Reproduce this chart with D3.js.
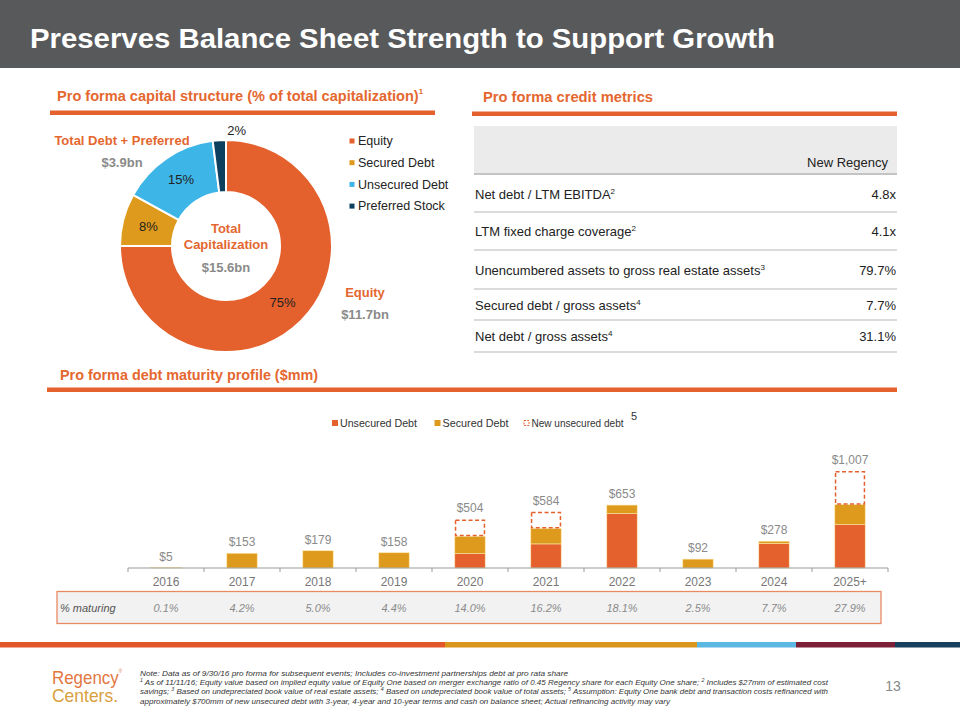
<!DOCTYPE html>
<html><head><meta charset="utf-8">
<script src="https://cdn.jsdelivr.net/npm/d3@7"></script>
<style>
body{margin:0;background:#fff}
svg{display:block}
text{font-family:"Liberation Sans",Arial,Helvetica,sans-serif}
</style>
</head><body>
<svg id="c" width="960" height="720"></svg>
<script>
// ---------------- DATA ----------------
const pageTitle = "Preserves Balance Sheet Strength to Support Growth";
const capCategories = ["Equity", "Secured Debt", "Unsecured Debt", "Preferred Stock"];
const capShares = [75, 8, 15, 2];
const capTotalLabel = "$15.6bn";
const equityAmountLabel = "$11.7bn";
const debtPrefAmountLabel = "$3.9bn";

const metricHeader = "New Regency";
const metricLabels = ["Net debt / LTM EBITDA", "LTM fixed charge coverage",
  "Unencumbered assets to gross real estate assets", "Secured debt / gross assets", "Net debt / gross assets"];
const metricNotes = ["2", "2", "3", "4", "4"];
const metricValues = ["4.8x", "4.1x", "79.7%", "7.7%", "31.1%"];

const years = ["2016", "2017", "2018", "2019", "2020", "2021", "2022", "2023", "2024", "2025+"];
const unsecuredDebt = [0, 0, 0, 0, 150, 250, 565, 0, 255, 450];
const securedDebt = [5, 153, 179, 158, 179, 159, 88, 92, 23, 207];
const newUnsecuredDebt = [0, 0, 0, 0, 175, 175, 0, 0, 0, 350];
const pctMaturing = ["0.1%", "4.2%", "5.0%", "4.4%", "14.0%", "16.2%", "18.1%", "2.5%", "7.7%", "27.9%"];
const barSeriesNames = ["Unsecured Debt", "Secured Debt", "New unsecured debt"];

// ---------------- STYLE ----------------
const ORANGE = "#e4602c", GOLD = "#de9a1c", SKY = "#3db5e6", NAVY = "#0d3f5f";
const HEAD = "#e4672f", GREY = "#8a8a8a", DARK = "#222";
const capColors = [ORANGE, GOLD, SKY, NAVY];

const svg = d3.select("#c");

// ---------------- TITLE BAR ----------------
svg.append("rect").attr("x", 0).attr("y", 0).attr("width", 960).attr("height", 68).attr("fill", "#58595b");
svg.append("text").attr("x", 30).attr("y", 48).attr("fill", "#fff")
  .attr("font-size", 28).attr("font-weight", "bold")
  .attr("textLength", 745).attr("lengthAdjust", "spacingAndGlyphs").text(pageTitle);

// section headings
function heading(x, y, txt, len, sup, bx, bw, by) {
  const t = svg.append("text").attr("x", x).attr("y", y).attr("fill", HEAD).attr("font-size", 15)
    .attr("font-weight", "bold").attr("textLength", len).attr("lengthAdjust", "spacingAndGlyphs");
  t.append("tspan").text(txt);
  if (sup) t.append("tspan").attr("font-size", 8).attr("dy", "-0.9em").text(sup);
  svg.append("rect").attr("x", bx).attr("y", by).attr("width", bw).attr("height", 4.5).attr("fill", ORANGE);
}
heading(57, 101, "Pro forma capital structure (% of total capitalization)", 366, "1", 50, 385, 110.5);
heading(483, 102, "Pro forma credit metrics", 170, null, 472, 425, 111.5);
heading(60, 380, "Pro forma debt maturity profile ($mm)", 258, null, 47, 850, 387.5);

// ---------------- DONUT ----------------
const cx = 226, cy = 246, rOut = 106, rIn = 54;
const pieData = d3.pie().sort(null).value(d => d)(capShares);
const arc = d3.arc().innerRadius(rIn).outerRadius(rOut);
const dg = svg.append("g").attr("transform", `translate(${cx},${cy})`);
dg.selectAll("path").data(pieData).join("path")
  .attr("d", arc).attr("fill", (d, i) => capColors[i]).attr("stroke", "#fff").attr("stroke-width", 2);
const labelArc = d3.arc().innerRadius(80).outerRadius(80);
const outArc = d3.arc().innerRadius(116).outerRadius(116);
dg.selectAll("text.pct").data(pieData).join("text").attr("class", "pct")
  .attr("transform", (d, i) => {
    const c = i === 3 ? outArc.centroid(d) : labelArc.centroid(d);
    return `translate(${c[0] + (i === 3 ? 18 : 0)},${c[1]})`;
  })
  .attr("text-anchor", "middle").attr("dy", "0.35em").attr("font-size", 13).attr("fill", DARK)
  .text(d => d.data + "%");

// center text
dg.append("text").attr("y", -13).attr("text-anchor", "middle").attr("font-size", 13).attr("font-weight", "bold").attr("fill", HEAD).text("Total");
dg.append("text").attr("y", 3).attr("text-anchor", "middle").attr("font-size", 13).attr("font-weight", "bold").attr("fill", HEAD).text("Capitalization");
dg.append("text").attr("y", 26).attr("text-anchor", "middle").attr("font-size", 13).attr("font-weight", "bold").attr("fill", GREY).text(capTotalLabel);

// side labels
svg.append("text").attr("x", 122).attr("y", 145).attr("text-anchor", "middle").attr("font-size", 13).attr("font-weight", "bold").attr("fill", HEAD).text("Total Debt + Preferred");
svg.append("text").attr("x", 122).attr("y", 167).attr("text-anchor", "middle").attr("font-size", 13).attr("font-weight", "bold").attr("fill", GREY).text(debtPrefAmountLabel);
svg.append("text").attr("x", 365).attr("y", 297).attr("text-anchor", "middle").attr("font-size", 13).attr("font-weight", "bold").attr("fill", HEAD).text("Equity");
svg.append("text").attr("x", 365).attr("y", 319).attr("text-anchor", "middle").attr("font-size", 13).attr("font-weight", "bold").attr("fill", GREY).text(equityAmountLabel);

// donut legend
const lg = svg.append("g");
capCategories.forEach((c, i) => {
  const yy = 141 + i * 21.7;
  lg.append("rect").attr("x", 349.5).attr("y", yy - 2.5).attr("width", 5).attr("height", 5).attr("fill", capColors[i]);
  lg.append("text").attr("x", 358).attr("y", yy).attr("dy", "0.35em").attr("font-size", 12.5).attr("fill", DARK).text(c);
});

// ---------------- CREDIT METRICS TABLE ----------------
const tx0 = 474, tx1 = 897;
svg.append("rect").attr("x", tx0).attr("y", 126).attr("width", tx1 - tx0).attr("height", 47).attr("fill", "#ebebeb");
svg.append("rect").attr("x", tx0).attr("y", 173).attr("width", tx1 - tx0).attr("height", 2).attr("fill", "#c4c4c4");
svg.append("text").attr("x", 888).attr("y", 162).attr("dy", "0.35em").attr("text-anchor", "end").attr("font-size", 13).attr("fill", DARK).text(metricHeader);
const rowBounds = [175, 212, 250, 289, 320, 352];
metricLabels.forEach((lab, i) => {
  const yc = (rowBounds[i] + rowBounds[i + 1]) / 2 + 0.5;
  const t = svg.append("text").attr("x", 475).attr("y", yc).attr("dy", "0.35em").attr("font-size", 13).attr("fill", DARK);
  t.append("tspan").text(lab);
  t.append("tspan").attr("font-size", 8).attr("dy", "-0.6em").text(metricNotes[i]);
  svg.append("text").attr("x", 896).attr("y", yc).attr("dy", "0.35em").attr("text-anchor", "end").attr("font-size", 13).attr("fill", DARK).text(metricValues[i]);
  svg.append("rect").attr("x", tx0).attr("y", rowBounds[i + 1] - 0.75).attr("width", tx1 - tx0).attr("height", 1.5).attr("fill", "#cfcfcf");
});

// ---------------- DEBT MATURITY BAR CHART ----------------
const x = d3.scaleBand().domain(years).range([128, 888]).paddingInner(0.6).paddingOuter(0.3);
const y = d3.scaleLinear().domain([0, 1100]).range([568, 462]);
const rows = years.map((yr, i) => ({ year: yr, unsecured: unsecuredDebt[i], secured: securedDebt[i], fresh: newUnsecuredDebt[i] }));
const stacked = d3.stack().keys(["unsecured", "secured", "fresh"])(rows);
const bg = svg.append("g");
const fills = { unsecured: ORANGE, secured: GOLD };
stacked.forEach(layer => {
  const key = layer.key;
  const sel = bg.selectAll(null).data(layer.filter(d => d[1] - d[0] > 0)).join("rect")
    .attr("x", d => x(d.data.year)).attr("width", x.bandwidth())
    .attr("y", d => y(d[1])).attr("height", d => y(d[0]) - y(d[1]));
  if (key === "fresh") {
    sel.attr("x", d => x(d.data.year) + 0.75).attr("width", x.bandwidth() - 1.5)
      .attr("y", d => y(d[1]) + 0.75).attr("height", d => y(d[0]) - y(d[1]) - 1.5)
      .attr("fill", "none").attr("stroke", ORANGE).attr("stroke-width", 1.5).attr("stroke-dasharray", "4,2.5");
  } else {
    sel.attr("fill", fills[key]).attr("stroke", "#fbe7a8").attr("stroke-width", 0.6);
  }
});
// totals labels
bg.selectAll("text.tot").data(rows).join("text").attr("class", "tot")
  .attr("x", d => x(d.year) + x.bandwidth() / 2)
  .attr("y", d => y(d.unsecured + d.secured + d.fresh) - 7)
  .attr("text-anchor", "middle").attr("font-size", 12).attr("fill", GREY)
  .text(d => "$" + d3.format(",")(d.unsecured + d.secured + d.fresh));

// axis
const axisG = svg.append("g").attr("transform", "translate(0,568)")
  .call(d3.axisBottom(x).tickSize(0).tickPadding(9.5));
axisG.select(".domain").remove();
axisG.selectAll("text").attr("font-size", 12).attr("fill", "#777").attr("font-family", "Liberation Sans, Arial, sans-serif");
svg.append("line").attr("x1", x.range()[0]).attr("x2", x.range()[1]).attr("y1", 568).attr("y2", 568).attr("stroke", "#9a9a9a").attr("stroke-width", 1.2);
svg.selectAll("line.bnd").data(d3.range(years.length + 1)).join("line").attr("class", "bnd")
  .attr("x1", i => x.range()[0] + i * x.step()).attr("x2", i => x.range()[0] + i * x.step())
  .attr("y1", 568).attr("y2", 572).attr("stroke", "#9a9a9a").attr("stroke-width", 1);

// legend
const bl = svg.append("g");
const legX = [332, 434.5, 523.5];
const legLen = [77, 66, 92];
barSeriesNames.forEach((nm, i) => {
  if (i < 2) bl.append("rect").attr("x", legX[i]).attr("y", 420).attr("width", 6).attr("height", 6).attr("fill", i === 0 ? ORANGE : GOLD);
  else bl.append("rect").attr("x", legX[i] + 0.5).attr("y", 420.5).attr("width", 5).attr("height", 5).attr("fill", "none").attr("stroke", ORANGE).attr("stroke-width", 1).attr("stroke-dasharray", "2,1.2");
  bl.append("text").attr("x", legX[i] + 8).attr("y", 423).attr("dy", "0.35em").attr("font-size", 11).attr("fill", "#333")
    .attr("textLength", legLen[i]).attr("lengthAdjust", "spacingAndGlyphs").text(nm);
});
bl.append("text").attr("x", 631).attr("y", 420).attr("font-size", 11).attr("fill", "#333").text("5");

// % maturing row
svg.append("rect").attr("x", 57).attr("y", 591.5).attr("width", 824).attr("height", 32).attr("fill", "#f2f2f2").attr("stroke", "#e98a63").attr("stroke-width", 1.3);
svg.append("text").attr("x", 60).attr("y", 608).attr("dy", "0.35em").attr("font-size", 11).attr("font-style", "italic").attr("fill", "#555").text("% maturing");
svg.selectAll("text.pm").data(years).join("text").attr("class", "pm")
  .attr("x", d => x(d) + x.bandwidth() / 2).attr("y", 608).attr("dy", "0.35em")
  .attr("text-anchor", "middle").attr("font-size", 11).attr("font-style", "italic").attr("fill", "#8a8a8a")
  .text((d, i) => pctMaturing[i]);

// ---------------- FOOTER ----------------
const stripe = [[0, 445, "#e3582a"], [445, 697, "#d9961c"], [697, 796, "#5bb8e2"], [796, 895, "#7b2036"], [895, 960, "#17405f"]];
stripe.forEach(s => svg.append("rect").attr("x", s[0]).attr("y", 642).attr("width", s[1] - s[0]).attr("height", 5.5).attr("fill", s[2]));

const logo1 = svg.append("text").attr("x", 52).attr("y", 684).attr("font-size", 19).attr("fill", "#e2773f").attr("textLength", 70).attr("lengthAdjust", "spacingAndGlyphs");
logo1.append("tspan").text("Regency");
logo1.append("tspan").attr("font-size", 5).attr("dy", "-2.2em").text("®");
svg.append("text").attr("x", 52).attr("y", 702).attr("font-size", 19).attr("fill", "#d9a040").attr("textLength", 66).attr("lengthAdjust", "spacingAndGlyphs").text("Centers.");

const notes = [
  [["Note: Data as of 9/30/16 pro forma for subsequent events; Includes co-investment partnerships debt at pro rata share", false]],
  [["1", true], [" As of 11/11/16; Equity value based on implied equity value of Equity One based on merger exchange ratio of 0.45 Regency share for each Equity One share; ", false], ["2", true], [" Includes $27mm of estimated cost", false]],
  [["savings; ", false], ["3", true], [" Based on undepreciated book value of real estate assets; ", false], ["4", true], [" Based on undepreciated book value of total assets; ", false], ["5", true], [" Assumption: Equity One bank debt and transaction costs refinanced with", false]],
  [["approximately $700mm of new unsecured debt with 3-year, 4-year and 10-year terms and cash on balance sheet; Actual refinancing activity may vary", false]]
];
const noteLens = [428, 688, 688, 530];
notes.forEach((ln, i) => {
  const t = svg.append("text").attr("x", 140).attr("y", 676 + i * 9.2).attr("font-size", 7.6).attr("font-style", "italic").attr("fill", "#333")
    .attr("textLength", noteLens[i]).attr("lengthAdjust", "spacingAndGlyphs");
  ln.forEach(p => {
    const ts = t.append("tspan").text(p[0]);
    if (p[1]) ts.attr("font-size", 5).attr("baseline-shift", "super");
  });
});
svg.append("text").attr("x", 893).attr("y", 691).attr("text-anchor", "middle").attr("font-size", 14).attr("fill", "#888").text("13");
</script>
</body></html>
